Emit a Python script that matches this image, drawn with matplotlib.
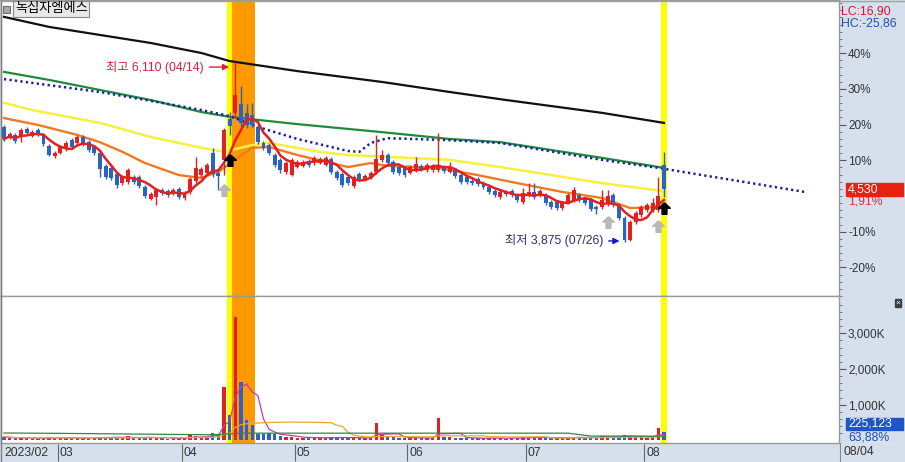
import numpy as np
import pandas as pd
import matplotlib
matplotlib.use("Agg")
import matplotlib.pyplot as plt
import matplotlib.transforms as mtransforms
from matplotlib.patches import Rectangle
from matplotlib.lines import Line2D
from matplotlib.path import Path
from matplotlib.ticker import FixedLocator

plt.rcParams['font.family'] = ['Liberation Sans', 'Noto Sans CJK KR', 'DejaVu Sans']

name = "녹십자엠에스"

# daily candles 2023-02-15 .. 2023-08-04 (won)
opens = [5305, 5165, 5205, 5180, 5280, 5190, 5265, 5205, 5070, 4945,
         4980, 5030, 5140, 5105, 5180, 5115, 5055, 4980, 4820, 4795,
         4720, 4605, 4620, 4680, 4680, 4555, 4410, 4435, 4520, 4505,
         4480, 4530, 4420, 4495, 4630, 4705, 4730, 4980, 4730, 4895,
         5405, 5480, 5590, 5480, 5455, 5305, 5105, 5080, 4955, 4895,
         4745, 4705, 4805, 4820, 4880, 4855, 4855, 4830, 4905, 4745,
         4720, 4680, 4570, 4720, 4655, 4670, 4745, 4895, 4955, 4870,
         4805, 4795, 4730, 4770, 4820, 4770, 4770, 4770, 4805, 4745,
         4770, 4705, 4680, 4630, 4655, 4605, 4555, 4505, 4435, 4495,
         4505, 4455, 4370, 4455, 4495, 4455, 4455, 4370, 4370, 4295,
         4370, 4395, 4455, 4410, 4395, 4310, 4310, 4345, 4455, 4335,
         4170, 3895, 4120, 4210, 4270, 4270, 4270, 4830]
highs = [5330, 5240, 5230, 5290, 5305, 5265, 5290, 5230, 5090, 5005,
         5080, 5130, 5165, 5205, 5205, 5140, 5080, 5005, 4845, 4820,
         4745, 4705, 4795, 4705, 4705, 4580, 4495, 4545, 4545, 4530,
         4545, 4555, 4505, 4680, 4930, 4805, 4855, 5045, 4770, 5290,
         5490, 6110, 5815, 5590, 5605, 5330, 5130, 5105, 4980, 4920,
         4880, 4920, 4895, 4895, 4905, 4945, 4930, 4945, 4930, 4770,
         4745, 4705, 4705, 4745, 4720, 4755, 5205, 5020, 4980, 4895,
         4830, 4820, 4830, 4930, 4845, 4855, 4845, 5230, 4830, 4870,
         4795, 4730, 4705, 4655, 4680, 4630, 4580, 4530, 4520, 4520,
         4530, 4480, 4545, 4605, 4605, 4530, 4480, 4395, 4395, 4385,
         4480, 4555, 4480, 4435, 4420, 4335, 4520, 4520, 4480, 4360,
         4195, 4145, 4260, 4335, 4360, 4420, 4680, 4995]
lows = [5130, 5155, 5105, 5115, 5205, 5180, 5190, 5070, 4945, 4920,
        4970, 5005, 5030, 5080, 5070, 4995, 4955, 4680, 4655, 4645,
        4545, 4580, 4595, 4595, 4545, 4420, 4395, 4335, 4455, 4435,
        4455, 4410, 4395, 4470, 4605, 4680, 4705, 4680, 4520, 4705,
        5205, 5415, 5315, 5290, 5305, 5090, 5020, 4955, 4805, 4730,
        4720, 4695, 4795, 4805, 4805, 4830, 4845, 4820, 4720, 4645,
        4555, 4580, 4545, 4630, 4645, 4655, 4720, 4870, 4830, 4720,
        4705, 4680, 4720, 4745, 4755, 4745, 4745, 4745, 4730, 4730,
        4670, 4595, 4595, 4580, 4570, 4530, 4470, 4435, 4410, 4445,
        4435, 4370, 4345, 4435, 4410, 4435, 4335, 4285, 4270, 4270,
        4345, 4370, 4370, 4335, 4260, 4220, 4285, 4320, 4310, 4145,
        3875, 3885, 4095, 4185, 4245, 4245, 4245, 4435]
closes = [5155, 5215, 5130, 5265, 5230, 5240, 5215, 5090, 4955, 4980,
          5055, 5105, 5055, 5180, 5090, 5020, 4980, 4780, 4680, 4670,
          4580, 4680, 4770, 4620, 4570, 4445, 4470, 4520, 4480, 4455,
          4520, 4435, 4480, 4655, 4795, 4780, 4830, 4720, 4695, 5265,
          5315, 5700, 5355, 5330, 5330, 5115, 5045, 4980, 4830, 4770,
          4855, 4895, 4870, 4870, 4830, 4920, 4905, 4920, 4745, 4670,
          4580, 4605, 4680, 4655, 4695, 4730, 4905, 4955, 4855, 4745,
          4730, 4705, 4805, 4845, 4780, 4830, 4820, 4830, 4755, 4795,
          4695, 4620, 4620, 4605, 4595, 4555, 4495, 4455, 4495, 4470,
          4455, 4395, 4480, 4495, 4435, 4505, 4360, 4310, 4295, 4360,
          4455, 4520, 4395, 4360, 4285, 4285, 4395, 4445, 4335, 4170,
          3895, 4120, 4235, 4310, 4335, 4360, 4445, 4530]
# volume, thousand shares
volumes = [110, 70, 60, 80, 60, 55, 60, 70, 90, 60,
           70, 80, 65, 60, 70, 60, 80, 110, 90, 80,
           90, 70, 120, 60, 70, 110, 80, 90, 60, 55,
           60, 70, 65, 140, 130, 90, 100, 220, 150, 1500,
           720, 3450, 1650, 560, 440, 190, 180, 200, 170, 120,
           110, 100, 80, 70, 70, 90, 80, 70, 90, 80,
           100, 70, 80, 60, 60, 90, 490, 150, 110, 90,
           80, 70, 70, 90, 60, 60, 80, 630, 110, 90,
           80, 70, 60, 60, 70, 60, 70, 80, 60, 55,
           60, 70, 90, 100, 90, 70, 80, 60, 70, 90,
           80, 100, 90, 70, 80, 90, 120, 130, 90, 110,
           150, 130, 100, 90, 80, 110, 352.41, 225.123]

month_labels = ["2023/02", "03", "04", "05", "06", "07", "08"]
month_first = [0, 10, 32, 52, 72, 93, 114]
last_date = "08/04"

# long moving averages (index, won)
ma_black_idx = [0, 8, 17, 26, 35, 40, 52, 67, 79, 89, 106, 117]
ma_black = [6675, 6550, 6450, 6350, 6225, 6125, 6000, 5865, 5740, 5640, 5480, 5355]
ma_green_idx = [0, 8, 17, 26, 35, 40, 52, 67, 79, 88, 106, 117]
ma_green = [5990, 5890, 5765, 5640, 5490, 5430, 5340, 5240, 5155, 5115, 4920, 4795]
ma_yellow_idx = [0, 5, 17, 26, 35, 39, 44, 47, 56, 61, 79, 88, 106, 117]
ma_yellow = [5605, 5515, 5355, 5180, 5045, 4995, 5080, 5105, 4995, 4955, 4895, 4805, 4605, 4505]
ma_orange_idx = [0, 6, 13, 17, 21, 25, 31, 35, 38, 41, 44, 47, 52, 61, 65, 68, 77, 84, 91, 99, 106, 111, 117]
ma_orange = [5415, 5330, 5205, 5115, 4995, 4855, 4705, 4670, 4745, 4895, 5045, 5055, 4955, 4805, 4855, 4820,
             4795, 4705, 4605, 4495, 4420, 4295, 4310]
lead_idx = [0, 17, 26, 35, 40, 45, 52, 61, 63, 65, 68, 79, 88, 106, 116, 129, 142]
lead = [5900, 5740, 5630, 5515, 5440, 5305, 5155, 5005, 4995, 5105, 5165, 5140, 5105, 4895, 4795, 4645, 4495]
vol_green_idx = [0, 10, 37, 42, 100, 104, 117]
vol_green = [210, 200, 160, 205, 205, 125, 120]

# signal arrows (index, won)
sig_black = [(40, 4895), (117, 4296)]
sig_gray = [(39, 4520), (107, 4120), (116, 4070)]

hi_i = int(np.argmax(highs))
lo_i = int(np.argmin(lows))
hi_date, lo_date = "04/14", "07/26"

W, H = 905, 462
RED = '#E2201E'
BLUE = '#2A62C8'

o = np.array(opens, float)
hh = np.array(highs, float)
ll = np.array(lows, float)
c = np.array(closes, float)
v = np.array(volumes, float)
n = len(c)
idx = np.arange(n)
cols = np.where(c >= o, RED, BLUE)
base = c[-2]

ma5 = pd.Series(c).rolling(5, min_periods=1).mean()
vma5 = pd.Series(v).rolling(5, min_periods=1).mean()
vma20 = pd.Series(v).rolling(20, min_periods=1).mean()


def fx(px):
    return px / W


def fy(py):
    return 1 - py / H


fig = plt.figure(figsize=(W / 100, H / 100), dpi=100)
fig.patch.set_facecolor('#D6E0ED')

ax = fig.add_axes([fx(1), fy(296), fx(838), 296 / H])
axv = fig.add_axes([fx(1), fy(443), fx(838), 147 / H], sharex=ax)
axd = fig.add_axes([fx(1), 0, fx(838), 19 / H], sharex=ax)

for a in (ax, axv):
    a.set_facecolor('white')
    for s in a.spines.values():
        s.set_color('#999999')
        s.set_linewidth(1)
    a.tick_params(axis='x', bottom=False, labelbottom=False)
    a.yaxis.tick_right()
    a.tick_params(axis='y', which='major', length=5, width=0.8, color='#555555',
                  labelsize=8.5, labelcolor='#333333', pad=1.5)
    a.tick_params(axis='y', which='minor', length=2.5, width=0.7, color='#777777')
    a.axvspan(39.5, 40.5, color='#FFFF00', lw=0, zorder=0)
    a.axvspan(40.5, 44.5, color='#FF9900', lw=0, zorder=0)
    a.axvspan(116.55, 117.45, color='#FFFF00', lw=0, zorder=0)

ax.set_xlim(-0.53, 148.02)
ax.set_ylim(3200, 6885)
axv.set_ylim(-70, 4042)

# price panel
pct_ticks = [-20, -10, 10, 20, 30, 40]
ax.set_yticks([base * (1 + p / 100) for p in pct_ticks])
ax.set_yticklabels([f"{p}%" for p in pct_ticks])
ax.yaxis.set_minor_locator(FixedLocator([base * (1 + p / 100) for p in range(-28, 56, 2)]))

ax.plot(ma_black_idx, ma_black, color='#111111', lw=1.6, zorder=2)
ax.plot(ma_green_idx, ma_green, color='#1E8C3C', lw=1.6, zorder=2)
ax.plot(ma_yellow_idx, ma_yellow, color='#F6F040', lw=1.8, zorder=2)
ax.plot(ma_orange_idx, ma_orange, color='#F07A22', lw=1.7, zorder=2)
ax.plot(lead_idx, lead, color='#1E1E9E', lw=1.8, linestyle=(0, (0.9, 1.3)), zorder=2)

body_lo = np.minimum(o, c)
body_h = np.maximum(np.abs(c - o), 12)
ax.vlines(idx, ll, hh, colors=cols, lw=1, zorder=3)
ax.bar(idx, body_h, bottom=body_lo, width=0.7, color=cols, lw=0, zorder=3)
ax.plot(idx, ma5, color=RED, lw=1.8, zorder=4)

arrow = Path([(0, 1), (-1, 0.05), (-0.42, 0.05), (-0.42, -1), (0.42, -1), (0.42, 0.05), (1, 0.05), (0, 1)])
ax.scatter([p[0] for p in sig_black], [p[1] for p in sig_black], marker=arrow, s=70, color='black', zorder=5)
ax.scatter([p[0] for p in sig_gray], [p[1] for p in sig_gray], marker=arrow, s=70, color='#B8B8B8', zorder=5)

hi_y = highs[hi_i] - 60
ax.text(hi_i - 5.6, hi_y, f"최고 {highs[hi_i]:,} ({hi_date})", color='#D0243A', fontsize=8.8,
        ha='right', va='center', zorder=6)
ax.annotate("", xy=(hi_i - 0.6, hi_y), xytext=(hi_i - 5.1, hi_y),
            arrowprops=dict(arrowstyle='-|>', color='#E0202E', lw=1, mutation_scale=9), zorder=6)
lo_y = lows[lo_i] + 10
ax.text(lo_i - 3.8, lo_y, f"최저 {lows[lo_i]:,} ({lo_date})", color='#263080', fontsize=8.8,
        ha='right', va='center', zorder=6)
ax.annotate("", xy=(lo_i - 0.4, lo_y), xytext=(lo_i - 3.3, lo_y),
            arrowprops=dict(arrowstyle='-|>', color='#1414C8', lw=1, mutation_scale=9), zorder=6)

# volume panel
axv.set_yticks([1000, 2000, 3000])
axv.set_yticklabels(["1,000K", "2,000K", "3,000K"])
axv.yaxis.set_minor_locator(FixedLocator(np.arange(200, 4000, 200)))
axv.bar(idx, v, width=0.6, color=cols, lw=0, zorder=3)
axv.plot(idx, vma5, color='#C23CB0', lw=0.9, zorder=4)
axv.plot(idx, vma20, color='#E8A830', lw=0.9, zorder=4)
axv.plot(vol_green_idx, vol_green, color='#2E8B3A', lw=0.9, zorder=4)

# date strip
axd.axis('off')
for k, (lab, i0) in enumerate(zip(month_labels, month_first)):
    xs = i0 - 0.5
    if k > 0:
        axd.vlines(xs, 0, 1, color='#666666', lw=0.8)
    axd.text(xs + 0.35 if k > 0 else 0.0, 0.45, lab, fontsize=8.8, color='#333333', va='center', ha='left')
fig.add_artist(Line2D([fx(839.5), fx(839.5)], [0, fy(443)], color='#8A8A8A', lw=0.8))
fig.text(fx(843), fy(452), last_date, fontsize=8.8, color='#333333', va='center')

# right panel labels
tr = mtransforms.blended_transform_factory(ax.transAxes, ax.transData)
ax.add_patch(Rectangle((1.0083, c[-1] - 80), 0.068, 160, transform=tr, color='#E8200E',
                       clip_on=False, zorder=6))
ax.text(1.011, c[-1], f"{int(c[-1]):,}", transform=tr, color='white', fontsize=8.8,
        va='center', clip_on=False, zorder=7)
chg = (c[-1] / base - 1) * 100
ax.text(1.011, c[-1] - 150, f"{chg:.2f}%".replace('.', ','), transform=tr, color='#E0303C',
        fontsize=8.8, va='center', clip_on=False)

lc = (c[-1] / min(lows) - 1) * 100
hc = (c[-1] / max(highs) - 1) * 100
fig.text(fx(841), fy(12), f"LC:{lc:.2f}".replace('.', ','), color='#D01830', fontsize=8.8, va='center')
fig.text(fx(841), fy(24), f"HC:{hc:.2f}".replace('.', ','), color='#2050B0', fontsize=8.8, va='center')

fig.patches.append(Rectangle((fx(846), fy(430)), fx(57), 12 / H, transform=fig.transFigure,
                             color='#1E56C8', zorder=5))
fig.text(fx(848), fy(424), f"{int(round(v[-1] * 1000)):,}", color='white', fontsize=8.8, va='center', zorder=6)
fig.text(fx(848), fy(437), f"{v[-1] / v[-2] * 100:.2f}%".replace('.', ','), color='#2050B0',
         fontsize=8.8, va='center')
fig.text(fx(898), fy(303), "×", color='white', fontsize=6, ha='center', va='center',
         bbox=dict(boxstyle='square,pad=0.1', fc='#404040', ec='#404040'))

# title tag
fig.patches.append(Rectangle((fx(3), fy(13)), fx(7), 7 / H, transform=fig.transFigure,
                             fc='#A8A8A8', ec='#707070', lw=0.8))
fig.text(fx(15), fy(9), name, fontsize=9.5, color='black', va='center',
         bbox=dict(boxstyle='square,pad=0.12', fc='#E8E8E8', ec='#8C8C8C', lw=0.8))

fig.add_artist(Line2D([fx(0.5), fx(0.5)], [0, 1], color='#808080', lw=1))
fig.add_artist(Line2D([0, 1], [fy(0.5), fy(0.5)], color='#A0A0A0', lw=1))

fig.savefig("out.png", dpi=100, facecolor=fig.get_facecolor())
